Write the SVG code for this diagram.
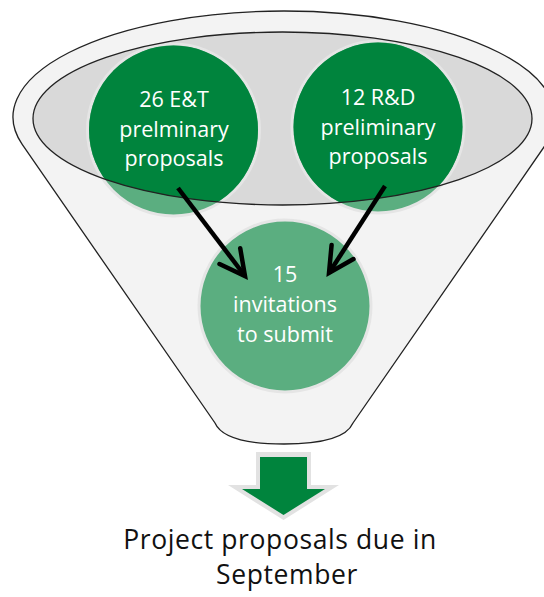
<svg xmlns="http://www.w3.org/2000/svg" width="544" height="597" viewBox="0 0 544 597">
  <style>
    .outline { stroke: #222; stroke-width: 1.3; }
    .light { fill: #5bae80; stroke: #e5e5e5; stroke-width: 3; }
    .dark { fill: #00843d; }
    .ntext { font-family: "Open Sans", "Noto Sans", sans-serif; font-size: 21.5px; fill: #ffffff; text-anchor: middle; }
    .label { font-family: "Open Sans", "Noto Sans", sans-serif; font-size: 26.5px; letter-spacing: 0.6px; fill: #111; text-anchor: middle; }
    .conn { fill: none; stroke: #000; stroke-width: 4.5; }
  </style>
  <defs>
    <clipPath id="innerClip">
      <ellipse cx="282.5" cy="118.5" rx="249.5" ry="86.5"/>
    </clipPath>
    <marker id="openHead" markerUnits="userSpaceOnUse" markerWidth="40" markerHeight="40" refX="0" refY="0" viewBox="-30 -20 40 40" orient="auto" overflow="visible">
      <path d="M -25 -13 L 0 0 L -25 13" fill="none" stroke="#000" stroke-width="4.5" stroke-linejoin="miter" stroke-linecap="round"/>
    </marker>
  </defs>

  <g id="funnel">
    <path class="outline" fill="#f3f3f3" d="M 22.2 144.4 A 271 106 0 1 1 545.8 144.4 L 353 423 C 346 439 318 444 284 444 C 250 444 222 439 215 423 Z"/>
    <ellipse cx="282.5" cy="118.5" rx="249.5" ry="86.5" fill="#d9d9d9"/>
  </g>

  <g id="node-et">
    <circle class="light" cx="173.5" cy="130" r="86"/>
    <circle class="dark" cx="173.5" cy="130" r="84.5" clip-path="url(#innerClip)"/>
    <text class="ntext"><tspan x="174" y="107">26 E&amp;T</tspan><tspan x="174" y="136.5">prelminary</tspan><tspan x="174" y="166">proposals</tspan></text>
  </g>

  <g id="node-rd">
    <circle class="light" cx="378" cy="127" r="86"/>
    <circle class="dark" cx="378" cy="127" r="84.5" clip-path="url(#innerClip)"/>
    <text class="ntext"><tspan x="378" y="105">12 R&amp;D</tspan><tspan x="378" y="134.5">preliminary</tspan><tspan x="378" y="164">proposals</tspan></text>
  </g>

  <g id="inner-ellipse-edge">
    <ellipse class="outline" cx="282.5" cy="118.5" rx="249.5" ry="86.5" fill="none"/>
  </g>

  <g id="node-invitations">
    <circle class="light" cx="285" cy="306" r="86"/>
    <text class="ntext"><tspan x="285" y="282">15</tspan><tspan x="285" y="312">invitations</tspan><tspan x="285" y="342">to submit</tspan></text>
  </g>

  <g id="connectors">
    <line class="conn" x1="178" y1="188" x2="245" y2="276" marker-end="url(#openHead)"/>
    <line class="conn" x1="385" y1="186" x2="329" y2="273" marker-end="url(#openHead)"/>
  </g>

  <g id="output-arrow">
    <polygon fill="#e2e2e2" points="256,452 311,452 311,485 339,485 283.5,520 228,485 256,485"/>
    <polygon fill="#00843d" points="260,457 307,457 307,489 325,489 283.5,515 242,489 260,489"/>
  </g>

  <g id="output-label">
    <text class="label"><tspan x="280" y="549">Project proposals due in</tspan><tspan x="287" y="584">September</tspan></text>
  </g>
</svg>
